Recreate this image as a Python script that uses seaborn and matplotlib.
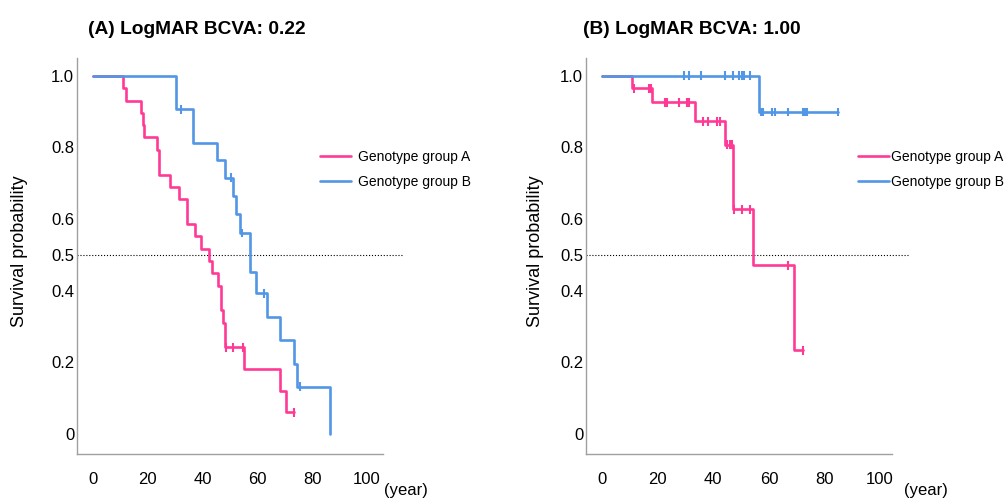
import numpy as np
import pandas as pd
import matplotlib
matplotlib.use("Agg")
import matplotlib.pyplot as plt
import seaborn as sns

# Kaplan-Meier steps (time in years, survival)
left_a_times = [0, 11.0, 12.0, 17.4, 18.1, 18.6, 23.2, 24.2, 28.1, 31.5, 34.2, 37.2, 39.3,
                42.3, 43.3, 45.7, 46.6, 47.5, 48.3, 55.2, 68.2, 70.4, 73.5]
left_a_surv = [1.0, 0.966, 0.931, 0.897, 0.862, 0.828, 0.793, 0.724, 0.690, 0.655, 0.586, 0.552, 0.517,
               0.483, 0.448, 0.414, 0.345, 0.310, 0.241, 0.181, 0.120, 0.060, 0.060]
left_a_censor = [48.6, 51.2, 54.6, 73.5]

left_b_times = [0, 30.3, 36.4, 45.1, 48.3, 51.2, 52.2, 53.6, 57.3, 59.5, 63.4, 68.2, 73.5, 74.3, 86.5]
left_b_surv = [1.0, 0.907, 0.813, 0.764, 0.715, 0.665, 0.613, 0.561, 0.451, 0.392, 0.326, 0.261, 0.194, 0.131, 0.0]
left_b_censor = [32.1, 50.4, 54.2, 62.5, 75.5]

right_a_times = [0, 10.7, 17.9, 33.5, 44.2, 47.2, 54.2, 69.2, 72.4]
right_a_surv = [1.0, 0.965, 0.926, 0.873, 0.808, 0.627, 0.471, 0.233, 0.233]
right_a_censor = [11.5, 16.7, 17.5, 22.7, 23.3, 27.5, 30.5, 31.3, 36.4, 38.2, 41.3, 42.4,
                  44.9, 46.0, 46.7, 47.6, 50.2, 53.2, 67.0, 72.4]

right_b_times = [0, 56.5, 85.0]
right_b_surv = [1.0, 0.899, 0.899]
right_b_censor = [29.5, 31.4, 35.5, 44.2, 47.2, 49.4, 50.3, 51.1, 53.2, 57.1, 58.0, 61.0, 62.2,
                  67.0, 72.2, 73.0, 73.8, 85.0]

groups = ["Genotype group A", "Genotype group B"]
titles = ["(A) LogMAR BCVA: 0.22", "(B) LogMAR BCVA: 1.00"]
yticks = [0, 0.2, 0.4, 0.5, 0.6, 0.8, 1.0]
ytick_labels = ["0", "0.2", "0.4", "0.5", "0.6", "0.8", "1.0"]
xticks = [0, 20, 40, 60, 80, 100]

colors = {"Genotype group A": "#FF3A96", "Genotype group B": "#5296E6"}

sns.set_style("white")
plt.rcParams["font.family"] = ["Liberation Sans", "DejaVu Sans"]
plt.rcParams["text.color"] = "black"
plt.rcParams["xtick.color"] = "black"
plt.rcParams["ytick.color"] = "black"


def censor_levels(times, surv, cens):
    idx = np.searchsorted(times, cens, side="right") - 1
    return [surv[i] for i in idx]


panels = [
    (left_a_times, left_a_surv, left_a_censor, left_b_times, left_b_surv, left_b_censor),
    (right_a_times, right_a_surv, right_a_censor, right_b_times, right_b_surv, right_b_censor),
]

fig = plt.figure(figsize=(10.08, 5.01), dpi=100)
ax_left = fig.add_axes([77 / 1008, 47 / 501, 306 / 1008, 396 / 501])
ax_right = fig.add_axes([586 / 1008, 47 / 501, 306 / 1008, 396 / 501])
axes = [ax_left, ax_right]
xlims = [(-5.8, 105.8), (-5.8, 104.3)]
legend_x = [320 / 1008, 858 / 1008]
dot_end = [1.062, 1.052]
year_x = [406 / 1008, 926 / 1008]
title_x = [88 / 1008, 583 / 1008]
ylabel_x = [20 / 1008, 535 / 1008]

for i, (ta, sa, ca, tb, sb, cb) in enumerate(panels):
    ax = axes[i]
    curves = pd.DataFrame({
        "time": ta + tb,
        "surv": sa + sb,
        "group": [groups[0]] * len(ta) + [groups[1]] * len(tb),
    })
    cens = pd.DataFrame({
        "time": ca + cb,
        "surv": censor_levels(ta, sa, ca) + censor_levels(tb, sb, cb),
        "group": [groups[0]] * len(ca) + [groups[1]] * len(cb),
    })
    sns.lineplot(data=curves, x="time", y="surv", hue="group", palette=colors,
                 drawstyle="steps-post", estimator=None, sort=False, linewidth=1.9, ax=ax)
    sns.scatterplot(data=cens, x="time", y="surv", hue="group", palette=colors,
                    marker="|", s=40, linewidth=1.5, legend=False, ax=ax, zorder=3)

    ax.axhline(0.5, xmin=0, xmax=dot_end[i], color="black", linestyle=":", linewidth=0.8,
               clip_on=False, zorder=1)

    ax.set_xlim(*xlims[i])
    ax.set_ylim(-0.057, 1.05)
    ax.set_xticks(xticks)
    ax.set_yticks(yticks)
    ax.set_yticklabels(ytick_labels)
    ax.tick_params(axis="both", length=0, labelsize=12, labelcolor="black")
    ax.tick_params(axis="x", pad=13)
    ax.tick_params(axis="y", pad=2)
    ax.set_xlabel("")
    ax.set_ylabel("")
    for side in ["top", "right"]:
        ax.spines[side].set_visible(False)
    for side in ["left", "bottom"]:
        ax.spines[side].set_color("#A0A0A0")
        ax.spines[side].set_linewidth(1.0)

    handles, labels = ax.get_legend_handles_labels()
    leg = ax.legend(handles, labels, loc="upper left", bbox_to_anchor=(legend_x[i], 351 / 501),
                    bbox_transform=fig.transFigure, frameon=False, fontsize=10,
                    handlelength=2.2, handletextpad=0.5 if i == 0 else 0.15,
                    labelspacing=0.8, borderpad=0, borderaxespad=0)
    for t in leg.get_texts():
        t.set_color("black")

    fig.text(title_x[i], 472 / 501, titles[i], fontsize=13.8, fontweight="bold",
             ha="left", va="center")
    fig.text(ylabel_x[i], 250 / 501, "Survival probability", fontsize=13,
             rotation=90, ha="center", va="center")
    fig.text(year_x[i], 10 / 501, "(year)", fontsize=12, ha="center", va="center")

fig.savefig("out.png", dpi=100)
